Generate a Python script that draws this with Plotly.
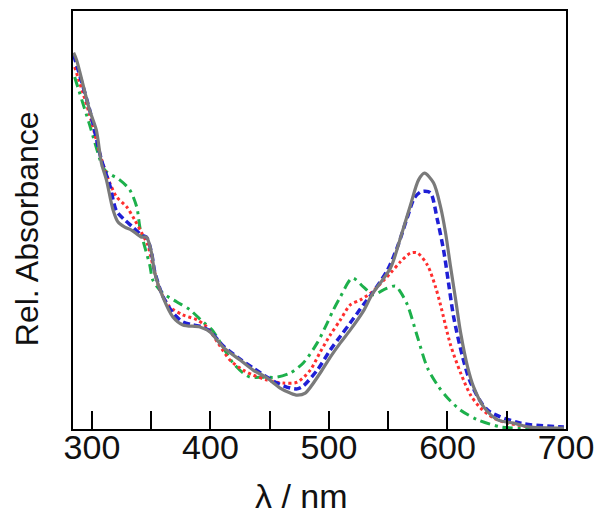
import plotly.graph_objects as go

# ---- data (wavelength in nm, relative absorbance 0..1) ----
wl_gray = [284.5, 287, 298, 303.7, 308, 312.2, 317.8, 322, 327.7, 333.3, 341.8, 346, 350.3, 353,
           359.8, 368.3, 376.7, 391.1, 399.6, 410.6, 425, 436, 447.8, 458.8, 467.3, 473.2, 480,
           492.6, 501.1, 509.6, 518, 529, 536.6, 551.9, 560.3, 568.8, 575.6, 580.6, 588.2, 594.2,
           598.4, 602.6, 606.9, 611.1, 617, 622.1, 630.5, 642.4, 655.9, 667.7, 698.2]
abs_gray = [0.900, 0.883, 0.763, 0.715, 0.636, 0.596, 0.524, 0.495, 0.483, 0.476, 0.459, 0.459,
            0.421, 0.373, 0.316, 0.268, 0.249, 0.244, 0.232, 0.196, 0.165, 0.141, 0.122, 0.098,
            0.086, 0.081, 0.086, 0.134, 0.172, 0.206, 0.237, 0.282, 0.323, 0.385, 0.457, 0.536,
            0.596, 0.612, 0.589, 0.531, 0.469, 0.388, 0.309, 0.230, 0.148, 0.100, 0.053, 0.022,
            0.014, 0.005, 0.002]

wl_blue = [284.5, 298.1, 308, 315, 320.6, 327.7, 334.4, 341.8, 346, 350.3, 353, 359.8, 368.3,
           376.7, 385.2, 391.1, 399.6, 410.6, 425, 436, 447.8, 456.2, 467.3, 473.2, 478.3, 490.1,
           501.1, 509.6, 518, 529, 536.6, 549.3, 557.7, 566.2, 572.1, 577.2, 581, 585.7, 591.5,
           596.7, 600.9, 605.2, 612.8, 619.6, 633.9, 661.8, 698.2]
abs_blue = [0.895, 0.763, 0.644, 0.584, 0.522, 0.500, 0.483, 0.464, 0.459, 0.421, 0.376, 0.318,
            0.278, 0.256, 0.249, 0.246, 0.234, 0.199, 0.167, 0.146, 0.124, 0.110, 0.098, 0.096,
            0.103, 0.141, 0.189, 0.222, 0.254, 0.297, 0.325, 0.380, 0.435, 0.507, 0.553, 0.567,
            0.569, 0.565, 0.500, 0.428, 0.349, 0.268, 0.172, 0.110, 0.045, 0.014, 0.005]

wl_red = [285.4, 298.1, 308.2, 315, 320.9, 329.4, 336.1, 342, 347.1, 351.4, 357.3, 365.7, 376.7,
          388.6, 397, 406.3, 416.4, 427.5, 436, 447.8, 461.3, 473.2, 484.2, 492.6, 501.1, 509.6,
          518, 526.5, 536.6, 540.9, 551.9, 560.3, 568.8, 574.7, 583.1, 589.9, 594.1, 602.6, 611.1,
          619.5, 628, 639, 650.8, 678.7, 698]
abs_red = [0.866, 0.751, 0.644, 0.589, 0.555, 0.531, 0.500, 0.469, 0.440, 0.392, 0.333, 0.292,
           0.273, 0.261, 0.244, 0.206, 0.165, 0.141, 0.129, 0.117, 0.110, 0.112, 0.141, 0.184,
           0.225, 0.261, 0.297, 0.309, 0.328, 0.340, 0.373, 0.400, 0.421, 0.421, 0.392, 0.340,
           0.297, 0.201, 0.134, 0.081, 0.050, 0.026, 0.014, 0.002, 0.001]

wl_green = [285.4, 298.1, 309.1, 312.4, 323.4, 331.9, 337.8, 340.4, 344.6, 348.8, 351.4, 359.8,
            371.7, 382.7, 393.7, 401.4, 410.6, 419, 427.5, 433.4, 444.4, 456.2, 467.3, 478.3,
            490.1, 498.6, 503.7, 509.6, 519.7, 529, 537.5, 546, 556.1, 560.3, 566.2, 574.7, 583.1,
            591.6, 600.1, 611.1, 625.5, 644.9, 661.8, 698]
abs_green = [0.842, 0.727, 0.627, 0.615, 0.596, 0.572, 0.531, 0.483, 0.435, 0.392, 0.356, 0.325,
             0.304, 0.285, 0.256, 0.237, 0.196, 0.158, 0.134, 0.124, 0.124, 0.124, 0.134, 0.158,
             0.206, 0.254, 0.285, 0.316, 0.361, 0.340, 0.321, 0.333, 0.342, 0.328, 0.297, 0.220,
             0.146, 0.105, 0.074, 0.045, 0.022, 0.005, 0.002, 0.001]

tick_vals = [300, 350, 400, 450, 500, 550, 600, 650, 700]
tick_text = ["300", "", "400", "", "500", "", "600", "", "700"]
x_title = "λ / nm"
y_title = "Rel. Absorbance"

FONT = "Liberation Sans, Arial, Helvetica, sans-serif"
X_RANGE = [284, 700]

fig = go.Figure()
fig.add_trace(go.Scatter(x=wl_green, y=abs_green, mode="lines",
                         line=dict(color="#1db04b", width=3, dash="10px,5px,3px,5px",
                                   shape="spline", smoothing=0.8)))
fig.add_trace(go.Scatter(x=wl_red, y=abs_red, mode="lines",
                         line=dict(color="#ff2e2e", width=3, dash="3px,3px",
                                   shape="spline", smoothing=0.8)))
fig.add_trace(go.Scatter(x=wl_blue, y=abs_blue, mode="lines",
                         line=dict(color="#1f1fd6", width=3.5, dash="7px,4px",
                                   shape="spline", smoothing=0.8)))
# gray spectrum is drawn on the overlaid x2 axis (same range) so it sits on top
fig.add_trace(go.Scatter(x=wl_gray, y=abs_gray, mode="lines", xaxis="x2", yaxis="y",
                         line=dict(color="#7a7a7a", width=3.2,
                                   shape="spline", smoothing=0.8)))

# page body adds an 8 px offset, so the figure is 8 px smaller than the window
fig.update_layout(
    width=596, height=514,
    margin=dict(l=65, r=38, t=3, b=93, autoexpand=False),
    paper_bgcolor="white", plot_bgcolor="white",
    showlegend=False,
    font=dict(family=FONT, size=34, color="#111111"),
    xaxis=dict(range=X_RANGE, tickvals=tick_vals, showticklabels=False,
               ticks="inside", ticklen=18, tickwidth=2, tickcolor="black",
               showline=True, linewidth=2, linecolor="black", mirror=True,
               showgrid=False, zeroline=False, automargin=False),
    # label-only axis, sitting a few px above the frame so the labels hug the axis
    xaxis2=dict(range=X_RANGE, overlaying="x", anchor="free", position=0.012, side="bottom",
                tickvals=tick_vals, ticktext=tick_text, ticks="", showline=False,
                showgrid=False, zeroline=False, automargin=False,
                tickfont=dict(family=FONT, size=34, color="#111111")),
    yaxis=dict(range=[0, 1], showticklabels=False, ticks="",
               showline=True, linewidth=2, linecolor="black", mirror=True,
               showgrid=False, zeroline=False, automargin=False),
    annotations=[
        dict(text=x_title, xref="paper", yref="paper", x=0.4625, y=0,
             xanchor="center", yanchor="middle", yshift=-67, showarrow=False,
             font=dict(family=FONT, size=34, color="#111111")),
        dict(text=y_title, xref="paper", yref="paper", x=0, y=0.478,
             xanchor="center", yanchor="middle", xshift=-46, textangle=-90,
             showarrow=False, font=dict(family=FONT, size=32, color="#111111")),
    ],
)

fig.write_html("out.html")
